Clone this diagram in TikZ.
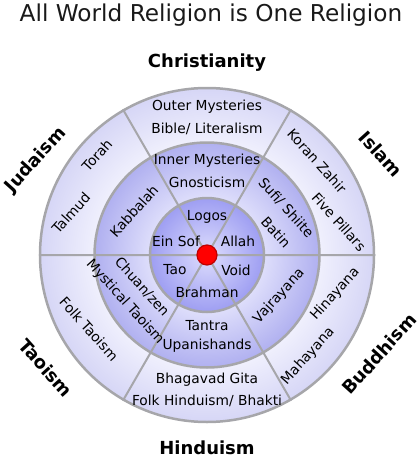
\documentclass[tikz,border=0pt]{standalone}
\usepackage{fontspec}
\setmainfont{DejaVu Sans}
\usepackage{tikz}
\usetikzlibrary{shapes}
\definecolor{spokegray}{RGB}{166,166,170}
\definecolor{outerA}{RGB}{240,240,253}
\definecolor{outerB}{RGB}{214,214,246}
\definecolor{midA}{RGB}{222,222,251}
\definecolor{midB}{RGB}{176,176,240}
\definecolor{innA}{RGB}{222,222,253}
\definecolor{innB}{RGB}{158,158,242}
\pgfdeclareradialshading{shade_outer}{\pgfpoint{0bp}{0bp}}{color(0bp)=(outerA); color(16.8bp)=(outerA); color(25bp)=(outerB); color(50bp)=(outerB)}
\pgfdeclareradialshading{shade_middle}{\pgfpoint{0bp}{0bp}}{color(0bp)=(midA); color(12.7bp)=(midA); color(25bp)=(midB); color(50bp)=(midB)}
\pgfdeclareradialshading{shade_inner}{\pgfpoint{0bp}{0bp}}{color(0bp)=(innA); color(25bp)=(innB); color(50bp)=(innB)}
\tikzstyle{ring_outer} = [circle, draw=spokegray, line width=2.5pt, inner sep=0pt, minimum size=334pt, shading=shade_outer]
\tikzstyle{ring_middle} = [circle, draw=spokegray, line width=2.5pt, inner sep=0pt, minimum size=225pt, shading=shade_middle]
\tikzstyle{ring_inner} = [circle, draw=spokegray, line width=2.5pt, inner sep=0pt, minimum size=114pt, shading=shade_inner]
\tikzstyle{node_core} = [circle, fill=red, draw=red!75!black, line width=1.2pt, inner sep=0pt, minimum size=20pt]
\tikzstyle{edge_spoke} = [draw=spokegray, line width=2pt]
\tikzstyle{text_title} = [inner sep=0pt, font=\fontsize{23.2}{26}\selectfont, text=black!90]
\tikzstyle{text_faith} = [inner sep=0pt, font=\fontsize{18}{20}\selectfont\bfseries]
\tikzstyle{text_ring} = [inner sep=0pt, font=\fontsize{13.8}{16}\selectfont]

\begin{document}
\begin{tikzpicture}[x=1pt,y=-1pt]
\useasboundingbox (0,0) rectangle (420,461);
\def\cx{207}
\def\cy{255}
\node (title) at (211,15) [text_title] {All World Religion is One Religion};

\node (ring3) at (\cx,\cy) [ring_outer] {};
\node (ring2) at (\cx,\cy) [ring_middle] {};
\node (ring1) at (\cx,\cy) [ring_inner] {};
\draw[edge_spoke] (ring3.0)--(ring3.180) (ring3.60)--(ring3.240) (ring3.120)--(ring3.300);
\node (core) at (\cx,\cy) [node_core] {};

% faiths round the wheel
\node (chr) at (207,63) [text_faith] {Christianity};
\node (isl) at (381,154) [text_faith, rotate=-48] {Islam};
\node (bud) at (379,354) [text_faith, rotate=48] {Buddhism};
\node (hin) at (207,448) [text_faith] {Hinduism};
\node (tao) at (46,368) [text_faith, rotate=-48] {Taoism};
\node (jud) at (36,160) [text_faith, rotate=48] {Judaism};

% inner circle
\node (logos) at (207,217) [text_ring] {Logos};
\node (einsof) at (176,241) [text_ring] {Ein Sof};
\node (allah) at (238,241) [text_ring] {Allah};
\node (taoc) at (175,270) [text_ring] {Tao};
\node (void) at (236,270) [text_ring] {Void};
\node (brahman) at (207,292) [text_ring] {Brahman};

% middle ring
\node (inner) at (207,161) [text_ring] {Inner Mysteries};
\node (gnost) at (207,182) [text_ring] {Gnosticism};
\node (sufi) at (286,208) [text_ring, rotate=-48] {Sufi/ Shiite};
\node (batin) at (276,232) [text_ring, rotate=-48] {Batin};
\node (vajra) at (279,296) [text_ring, rotate=48] {Vajrayana};
\node (tantra) at (207,326) [text_ring] {Tantra};
\node (upan) at (207,346) [text_ring] {Upanishands};
\node (chuan) at (142,287) [text_ring, rotate=-48] {Chuan/zen};
\node (mystao) at (125,302) [text_ring, rotate=-48] {Mystical Taoism};
\node (kabb) at (134,211) [text_ring, rotate=48] {Kabbalah};

% outer ring
\node (outer) at (207,107) [text_ring] {Outer Mysteries};
\node (bible) at (207,129) [text_ring] {Bible/ Literalism};
\node (koran) at (317,161) [text_ring, rotate=-48] {Koran Zahir};
\node (pillars) at (339,222) [text_ring, rotate=-48] {Five Pillars};
\node (hina) at (335,294) [text_ring, rotate=48] {Hinayana};
\node (maha) at (308,356) [text_ring, rotate=48] {Mahayana};
\node (gita) at (207,380) [text_ring] {Bhagavad Gita};
\node (bhakti) at (207,401) [text_ring] {Folk Hinduism/ Bhakti};
\node (folktao) at (89,329) [text_ring, rotate=-48] {Folk Taoism};
\node (talmud) at (71,213) [text_ring, rotate=48] {Talmud};
\node (torah) at (97,155) [text_ring, rotate=48] {Torah};
\end{tikzpicture}
\end{document}
